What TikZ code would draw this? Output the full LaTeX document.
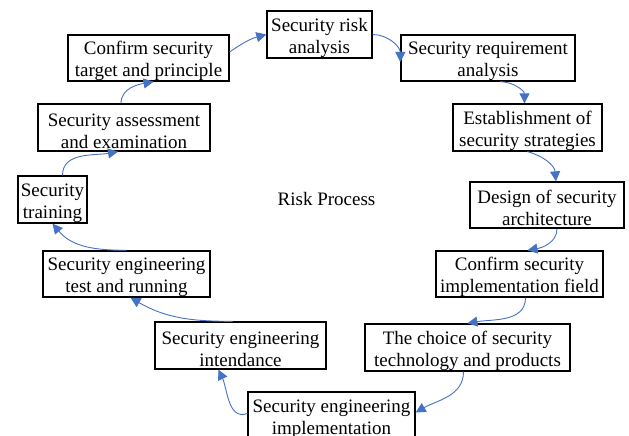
\documentclass[tikz,border=0pt]{standalone}
\usepackage{fontspec}
\setmainfont{Liberation Serif}
\usetikzlibrary{arrows.meta}
\newcommand{\topgap}{\rule{0pt}{20pt}}
\begin{document}
\begin{tikzpicture}[x=1pt,y=1pt,
  stage/.style={draw=black,line width=1.3pt,fill=white,align=center,inner sep=0pt,
    font=\fontsize{19}{22}\selectfont},
  flow/.style={draw=flowColor,line width=0.9pt,-{Triangle[length=10pt,width=10pt]}}]
\definecolor{fillColor}{RGB}{255,255,255}
\definecolor{flowColor}{RGB}{68,114,196}
\path[use as bounding box,fill=fillColor] (0,0) rectangle (629,436);

\node[stage,minimum width=105,minimum height=47] (risk) at (319.5,401.5) {\topgap Security risk\\analysis};
\node[stage,minimum width=174,minimum height=46] (req) at (488,378) {\topgap Security requirement\\analysis};
\node[stage,minimum width=149,minimum height=47] (strat) at (527.5,308.5) {\topgap Establishment of\\security strategies};
\node[stage,minimum width=154,minimum height=46] (design) at (547,231) {\topgap Design of security\\architecture};
\node[stage,minimum width=167,minimum height=46] (field) at (519.5,162) {\topgap Confirm security\\implementation field};
\node[stage,minimum width=205,minimum height=47] (choice) at (467.5,88.5) {\topgap The choice of security\\technology and products};
\node[stage,minimum width=167,minimum height=47] (impl) at (331.5,20.5) {\topgap Security engineering\\implementation};
\node[stage,minimum width=171,minimum height=47] (intend) at (240.5,90.5) {\topgap Security engineering\\intendance};
\node[stage,minimum width=167,minimum height=46] (test) at (126.5,162) {\topgap Security engineering\\test and running};
\node[stage,minimum width=69,minimum height=47] (training) at (52.5,236.5) {\topgap Security\\training};
\node[stage,minimum width=172,minimum height=47] (assess) at (124,308.5) {\topgap Security assessment\\and examination};
\node[stage,minimum width=161,minimum height=46] (target) at (148.5,378) {\topgap Confirm security\\target and principle};

\node[font=\fontsize{19}{22}\selectfont,inner sep=0pt] (process) at (326.5,237) {Risk Process};

% the cycle, clockwise from the top
\draw[flow] ([yshift=6]target.east) to[out=35,in=195] (risk.west);
\draw[flow] (risk.east) to[out=0,in=90] ([yshift=-4]req.west);
\draw[flow] ([xshift=12]req.south) to[out=0,in=90] ([xshift=-3]strat.north);
\draw[flow] (strat.south) to[out=-15,in=95] ([xshift=9]design.north);
\draw[flow] ([xshift=10]design.south) to[out=-90,in=10] ([xshift=8]field.north);
\draw[flow] ([xshift=6]field.south) to[out=-90,in=10] (choice.north);
\draw[flow] ([xshift=-4]choice.south) to[out=-90,in=30] ([yshift=3]impl.east);
\draw[flow] ([yshift=2]impl.west) to[out=200,in=-65] ([xshift=-22]intend.south);
\draw[flow] ([xshift=-8]intend.north) to[out=180,in=-30] ([xshift=4]test.south);
\draw[flow] (test.north) to[out=180,in=-50] (training.south);
\draw[flow] ([xshift=10]training.north) to[out=90,in=190] ([xshift=-6]assess.south);
\draw[flow] ([xshift=-3]assess.north) to[out=90,in=190] ([xshift=5]target.south);
\end{tikzpicture}
\end{document}
